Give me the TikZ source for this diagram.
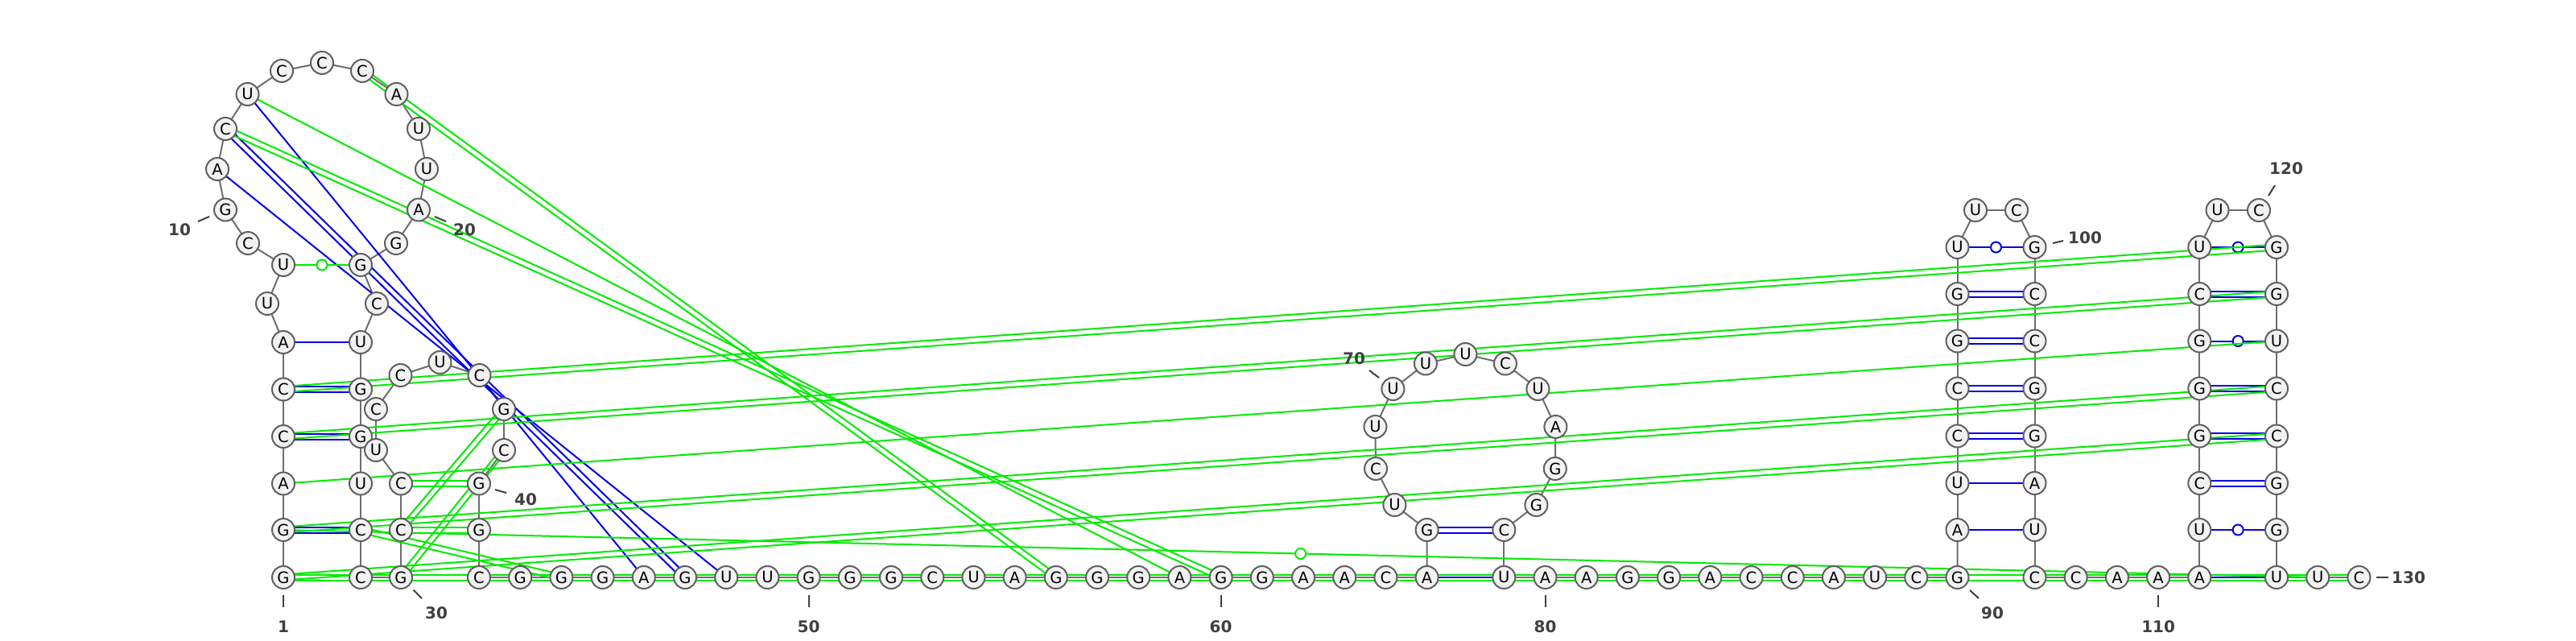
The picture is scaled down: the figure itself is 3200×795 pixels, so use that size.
\documentclass[tikz,border=0pt]{standalone}
\usepackage{fontspec}
\setmainfont{DejaVu Sans}
\usetikzlibrary{calc}
\pgfdeclarelayer{background}
\pgfsetlayers{background,main}
\definecolor{bbgray}{RGB}{110,110,110}
\definecolor{ndgray}{RGB}{96,96,96}
\definecolor{nfill}{RGB}{242,242,242}
\definecolor{pblue}{RGB}{0,0,235}
\definecolor{pgreen}{RGB}{0,235,0}
\definecolor{labgray}{RGB}{64,64,64}
\newcommand\mknode[4]{\node[nt] (n#1) at (#2,#3) {#4};}
\newcommand\dblpair[3]{%
  \draw[#1] ($(#2.center)!3.5pt!90:(#3.center)$) -- ($(#3.center)!3.5pt!-90:(#2.center)$);
  \draw[#1] ($(#2.center)!3.5pt!-90:(#3.center)$) -- ($(#3.center)!3.5pt!90:(#2.center)$);}
\newcommand\sglpair[3]{\draw[#1] (#2.center) -- (#3.center);}
\newcommand\wobpair[3]{%
  \draw[pline, draw=#1] (#2.center) -- (#3.center);
  \node[wob, draw=#1] at ($(#2.center)!0.5!(#3.center)$) {};}
\begin{document}
\begin{tikzpicture}[x=1pt,y=-1pt,
  nt/.style={circle, draw=ndgray, fill=nfill, line width=2pt, minimum size=28pt, inner sep=0pt, font=\fontsize{19.5}{19.5}\selectfont},
  bbl/.style={draw=bbgray, line width=2pt},
  pline/.style={line width=2pt},
  bpl/.style={pline, draw=pblue},
  gpl/.style={pline, draw=pgreen},
  wob/.style={circle, fill=white, line width=2pt, minimum size=13pt, inner sep=0pt},
  tickl/.style={draw=labgray, line width=2pt},
  labt/.style={text=labgray, font=\bfseries\fontsize{20}{20}\selectfont, inner sep=0pt}]
\useasboundingbox (0,0) rectangle (3200,795);
% ---- nucleotides
\mknode{1}{352}{717}{G}
\mknode{2}{352}{658}{G}
\mknode{3}{352}{600.5}{A}
\mknode{4}{352}{542}{C}
\mknode{5}{352}{483.5}{C}
\mknode{6}{352}{425}{A}
\mknode{7}{332}{377}{U}
\mknode{8}{352}{329}{U}
\mknode{9}{308}{302}{C}
\mknode{10}{280}{260.5}{G}
\mknode{11}{270}{210}{A}
\mknode{12}{280}{160}{C}
\mknode{13}{307.5}{117}{U}
\mknode{14}{350}{88}{C}
\mknode{15}{400}{78}{C}
\mknode{16}{450}{88}{C}
\mknode{17}{492.5}{117}{A}
\mknode{18}{520}{160}{U}
\mknode{19}{530}{210}{U}
\mknode{20}{520}{260.5}{A}
\mknode{21}{492}{302}{G}
\mknode{22}{448}{329}{G}
\mknode{23}{468}{377}{C}
\mknode{24}{448}{425}{U}
\mknode{25}{448}{483.5}{G}
\mknode{26}{448}{542}{G}
\mknode{27}{448}{600.5}{U}
\mknode{28}{448}{658}{C}
\mknode{29}{448}{717}{C}
\mknode{30}{498}{717}{G}
\mknode{31}{498}{658}{C}
\mknode{32}{498}{600.5}{C}
\mknode{33}{467}{559}{U}
\mknode{34}{467}{508}{C}
\mknode{35}{497.5}{466}{C}
\mknode{36}{546.5}{450}{U}
\mknode{37}{595.5}{466}{C}
\mknode{38}{626}{508}{G}
\mknode{39}{626}{559}{C}
\mknode{40}{595}{600.5}{G}
\mknode{41}{595}{658}{G}
\mknode{42}{595}{717}{C}
\foreach \i/\b in {43/G,44/G,45/G,46/A,47/G,48/U,49/U,50/G,51/G,52/G,53/C,54/U,55/A,56/G,57/G,58/G,59/A,60/G,61/G,62/A,63/A,64/C,65/A}
  {\node[nt] (n\i) at ({595+(\i-42)*51.2},717) {\b};}
\mknode{66}{1772.6}{658}{G}
\mknode{67}{1732.4}{627}{U}
\mknode{68}{1709}{582}{C}
\mknode{69}{1708.4}{530}{U}
\mknode{70}{1730.4}{483}{U}
\mknode{71}{1770.9}{451.5}{U}
\mknode{72}{1820.4}{440}{U}
\mknode{73}{1869.9}{451.5}{C}
\mknode{74}{1910.4}{483}{U}
\mknode{75}{1932.4}{530}{A}
\mknode{76}{1931.8}{582}{G}
\mknode{77}{1908.4}{627}{G}
\mknode{78}{1868.3}{658}{C}
\mknode{79}{1868.3}{717}{U}
\foreach \i/\b in {80/A,81/A,82/G,83/G,84/A,85/C,86/C,87/A,88/U,89/C,90/G}
  {\node[nt] (n\i) at ({1868.3+(\i-79)*51.2},717) {\b};}
% hairpin 91-106
\mknode{91}{2431.5}{658}{A}
\mknode{92}{2431.5}{600}{U}
\mknode{93}{2431.5}{541.5}{C}
\mknode{94}{2431.5}{482.5}{C}
\mknode{95}{2431.5}{423.5}{G}
\mknode{96}{2431.5}{365}{G}
\mknode{97}{2431.5}{307}{U}
\mknode{98}{2454}{261}{U}
\mknode{99}{2505}{261}{C}
\mknode{100}{2527.5}{307}{G}
\mknode{101}{2527.5}{365}{C}
\mknode{102}{2527.5}{423.5}{C}
\mknode{103}{2527.5}{482.5}{G}
\mknode{104}{2527.5}{541.5}{G}
\mknode{105}{2527.5}{600}{A}
\mknode{106}{2527.5}{658}{U}
\mknode{107}{2527.5}{717}{C}
\mknode{108}{2578.7}{717}{C}
\mknode{109}{2629.9}{717}{A}
\mknode{110}{2681.1}{717}{A}
\mknode{111}{2732.3}{717}{A}
\mknode{112}{2732.3}{658}{U}
\mknode{113}{2732.3}{600}{C}
\mknode{114}{2732.3}{541.5}{G}
\mknode{115}{2732.3}{482.5}{G}
\mknode{116}{2732.3}{423.5}{G}
\mknode{117}{2732.3}{365}{C}
\mknode{118}{2732.3}{307}{U}
\mknode{119}{2754.5}{261}{U}
\mknode{120}{2806}{261}{C}
\mknode{121}{2828}{307}{G}
\mknode{122}{2828}{365}{G}
\mknode{123}{2828}{423.5}{U}
\mknode{124}{2828}{482.5}{C}
\mknode{125}{2828}{541.5}{C}
\mknode{126}{2828}{600}{G}
\mknode{127}{2828}{658}{G}
\mknode{128}{2828}{717}{U}
\mknode{129}{2879.2}{717}{U}
\mknode{130}{2930.4}{717}{C}
% ---- lines beneath the nucleotides
\begin{pgfonlayer}{background}
\fill[white] (0,0) rectangle (3200,795);
\foreach \i in {1,...,129}{\pgfmathtruncatemacro\j{\i+1}\draw[bbl] (n\i.center) -- (n\j.center);}
% blue pairs
\dblpair{bpl}{n1}{n29}
\dblpair{bpl}{n2}{n28}
\dblpair{bpl}{n4}{n26}
\dblpair{bpl}{n5}{n25}
\sglpair{bpl}{n6}{n24}
\dblpair{bpl}{n30}{n42}
\dblpair{bpl}{n31}{n41}
\dblpair{bpl}{n32}{n40}
\sglpair{bpl}{n11}{n48}
\dblpair{bpl}{n12}{n47}
\sglpair{bpl}{n13}{n46}
\sglpair{bpl}{n65}{n79}
\dblpair{bpl}{n66}{n78}
\dblpair{bpl}{n90}{n107}
\sglpair{bpl}{n91}{n106}
\sglpair{bpl}{n92}{n105}
\dblpair{bpl}{n93}{n104}
\dblpair{bpl}{n94}{n103}
\dblpair{bpl}{n95}{n102}
\dblpair{bpl}{n96}{n101}
\wobpair{pblue}{n97}{n100}
\sglpair{bpl}{n111}{n128}
\wobpair{pblue}{n112}{n127}
\dblpair{bpl}{n113}{n126}
\dblpair{bpl}{n114}{n125}
\dblpair{bpl}{n115}{n124}
\wobpair{pblue}{n116}{n123}
\dblpair{bpl}{n117}{n122}
\wobpair{pblue}{n118}{n121}
% green pairs
\dblpair{gpl}{n1}{n130}
\dblpair{gpl}{n5}{n121}
\dblpair{gpl}{n4}{n122}
\sglpair{gpl}{n3}{n123}
\dblpair{gpl}{n2}{n124}
\dblpair{gpl}{n1}{n125}
\dblpair{gpl}{n12}{n60}
\sglpair{gpl}{n13}{n59}
\dblpair{gpl}{n16}{n56}
\dblpair{gpl}{n31}{n38}
\dblpair{gpl}{n30}{n39}
\dblpair{gpl}{n32}{n40}
\dblpair{gpl}{n31}{n41}
\dblpair{gpl}{n28}{n44}
\wobpair{pgreen}{n8}{n22}
\wobpair{pgreen}{n2}{n129}
\end{pgfonlayer}
% ---- numbering
\draw[tickl] (352,739) -- (352,754);  \node[labt] (l1) at (352,778) {1};
\draw[tickl] (260,269) -- (246,275);  \node[labt] (l10) at (223,285) {10};
\draw[tickl] (540,269) -- (554,275);  \node[labt] (l20) at (577,285) {20};
\draw[tickl] (513.5,732.5) -- (524,743); \node[labt] (l30) at (542,761) {30};
\draw[tickl] (615,608) -- (629,612);  \node[labt] (l40) at (653,620) {40};
\draw[tickl] (1004.6,739) -- (1004.6,754); \node[labt] (l50) at (1004.6,778) {50};
\draw[tickl] (1516.6,739) -- (1516.6,754); \node[labt] (l60) at (1516.6,778) {60};
\draw[tickl] (1713,469) -- (1701,460); \node[labt] (l70) at (1682,445) {70};
\draw[tickl] (1919.5,739) -- (1919.5,754); \node[labt] (l80) at (1919.5,778) {80};
\draw[tickl] (2447,733) -- (2458,743); \node[labt] (l90) at (2475,761) {90};
\draw[tickl] (2550,302) -- (2563,299); \node[labt] (l100) at (2590,295) {100};
\draw[tickl] (2681.1,739) -- (2681.1,754); \node[labt] (l110) at (2681.1,778) {110};
\draw[tickl] (2818,243) -- (2826,230); \node[labt] (l120) at (2840,209) {120};
\draw[tickl] (2952,717) -- (2967,717); \node[labt] (l130) at (2992,717) {130};
\end{tikzpicture}
\end{document}
